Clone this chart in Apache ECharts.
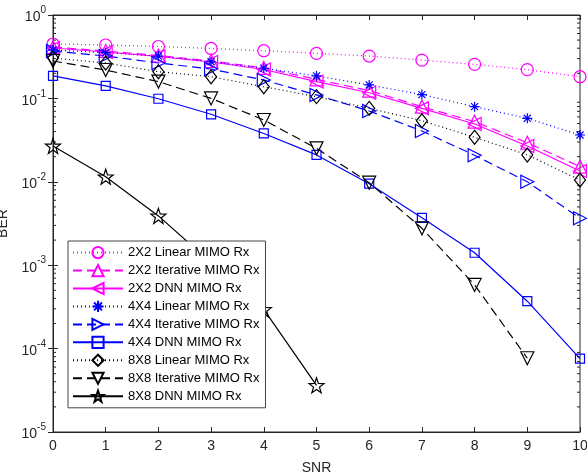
<!DOCTYPE html>
<html>
<head>
<meta charset="utf-8">
<script src="https://cdn.jsdelivr.net/npm/echarts@6/dist/echarts.min.js"></script>
<style>
  html, body { margin: 0; padding: 0; background: #fff; }
  #chart { width: 587px; height: 476px; }
</style>
</head>
<body>
<div id="chart"></div>
<script>
// SNR axis
const snr = [0, 1, 2, 3, 4, 5, 6, 7, 8, 9, 10]

// BER values
const lin2 = [0.449, 0.437, 0.419, 0.397, 0.373, 0.347, 0.322, 0.288, 0.256, 0.221, 0.182]
const iter2 = [0.413, 0.370, 0.327, 0.281, 0.232, 0.169, 0.124, 0.0796, 0.0526, 0.0294, 0.0152]
const dnn2 = [0.402, 0.360, 0.318, 0.273, 0.222, 0.159, 0.117, 0.0760, 0.0493, 0.0269, 0.0135]
const lin4 = [0.380, 0.353, 0.322, 0.275, 0.230, 0.186, 0.145, 0.111, 0.0796, 0.0577, 0.0364]
const iter4 = [0.370, 0.322, 0.266, 0.225, 0.166, 0.110, 0.0706, 0.0407, 0.0208, 0.0100, 0.00365]
const dnn4 = [0.186, 0.141, 0.099, 0.0645, 0.038, 0.021, 0.0095, 0.0037, 0.00141, 0.00037, 0.000076]
const lin8 = [0.305, 0.266, 0.209, 0.182, 0.138, 0.105, 0.0760, 0.0540, 0.0342, 0.0210, 0.0105]
const iter8 = [0.281, 0.219, 0.159, 0.100, 0.0551, 0.0252, 0.00975, 0.00277, 0.00058, 0.0000766]
const dnn8 = [0.0269, 0.0115, 0.0039, 0.00107, 0.000295, 0.0000363]

const names = [
  '2X2 Linear MIMO Rx', '2X2 Iterative MIMO Rx', '2X2 DNN MIMO Rx',
  '4X4 Linear MIMO Rx', '4X4 Iterative MIMO Rx', '4X4 DNN MIMO Rx',
  '8X8 Linear MIMO Rx', '8X8 Iterative MIMO Rx', '8X8 DNN MIMO Rx'
]

// minor log ticks 2..9 per decade
const minorTicks = []
for (let e = -5; e < 0; e++) {
  for (let m = 2; m <= 9; m++) minorTicks.push(m * Math.pow(10, e))
}

const MAGENTA = '#ff00ff'
const BLUE = '#0000ff'
const BLACK = '#000000'
const DOT = [1, 3]
const DASH = [9, 5]

const STAR = 'path://M0,-10L2.35,-3.24L9.51,-3.09L3.8,1.24L5.88,8.09L0,4L-5.88,8.09L-3.8,1.24L-9.51,-3.09L-2.35,-3.24Z'
const ASTERISK = 'path://M0,-10L0,10M-10,0L10,0M-7.07,-7.07L7.07,7.07M-7.07,7.07L7.07,-7.07'

function pairs(ys) {
  return ys.map((v, i) => [snr[i], v])
}

function makeSeries(name, ys, color, dash, symbol, size, rotate) {
  return {
    name: name,
    type: 'line',
    data: pairs(ys),
    symbol: symbol,
    symbolSize: size,
    symbolRotate: rotate || 0,
    showAllSymbol: true,
    clip: false,
    color: color,
    lineStyle: { color: color, width: 1.2, type: dash },
    itemStyle: { color: 'rgba(0,0,0,0)', borderColor: color, borderWidth: 1.2 },
    emphasis: { disabled: true },
    z: 3
  }
}

const chart = echarts.init(document.getElementById('chart'))

const axisColor = '#262626'
const tickStyle = { show: true, inside: true, length: 5, lineStyle: { color: axisColor } }

chart.setOption({
  animation: false,
  textStyle: { fontFamily: 'Liberation Sans, Arial, sans-serif' },
  grid: {
    left: 53, right: 7, top: 15, bottom: 44,
    outerBoundsMode: 'none',
    containLabel: false,
    show: true, borderColor: axisColor, borderWidth: 1
  },
  legend: {
    data: names,
    orient: 'vertical',
    left: 68,
    top: 241,
    itemWidth: 50,
    itemHeight: 14,
    itemGap: 4.75,
    padding: [5, 6, 5, 4],
    backgroundColor: '#fff',
    borderColor: '#444',
    borderWidth: 1,
    borderRadius: 0,
    textStyle: { fontSize: 13, color: '#000', fontFamily: 'Liberation Sans, Arial, sans-serif' },
    z: 10
  },
  xAxis: [
    {
      type: 'value',
      min: 0, max: 10, interval: 1,
      name: 'SNR',
      nameLocation: 'middle',
      nameGap: 29,
      nameTextStyle: { fontSize: 14, color: axisColor },
      axisLine: { show: true, lineStyle: { color: axisColor } },
      axisTick: tickStyle,
      axisLabel: { fontSize: 14, color: axisColor, margin: 7 },
      splitLine: { show: false }
    },
    {
      type: 'value',
      position: 'top',
      min: 0, max: 10, interval: 1,
      axisLine: { show: true, lineStyle: { color: axisColor } },
      axisTick: tickStyle,
      axisLabel: { show: false },
      splitLine: { show: false }
    }
  ],
  yAxis: [
    {
      type: 'log',
      logBase: 10,
      min: 1e-5, max: 1,
      name: 'BER',
      nameLocation: 'middle',
      nameGap: 42,
      nameTextStyle: { fontSize: 14, color: axisColor },
      axisLine: { show: true, lineStyle: { color: axisColor } },
      axisTick: tickStyle,
      axisLabel: {
        color: axisColor,
        margin: 7,
        formatter: function (v) {
          const e = Math.round(Math.log10(v))
          return '{b|10}{s|' + e + '}'
        },
        rich: {
          b: { fontSize: 14, lineHeight: 19, verticalAlign: 'bottom', color: axisColor },
          s: { fontSize: 10, lineHeight: 10, verticalAlign: 'top', color: axisColor }
        }
      },
      splitLine: { show: false }
    },
    {
      type: 'log',
      logBase: 10,
      position: 'right',
      min: 1e-5, max: 1,
      axisLine: { show: true, lineStyle: { color: axisColor } },
      axisTick: tickStyle,
      axisLabel: { show: false },
      splitLine: { show: false }
    }
  ],
  series: [
    {
      type: 'custom',
      name: 'minorTicks',
      coordinateSystem: 'cartesian2d',
      clip: false,
      silent: true,
      z: 1,
      data: minorTicks.map(v => [0, v]),
      renderItem: function (params, api) {
        const v = api.value(1)
        const l = api.coord([0, v])
        const r = api.coord([10, v])
        const st = { stroke: axisColor, lineWidth: 1 }
        return {
          type: 'group',
          children: [
            { type: 'line', shape: { x1: l[0], y1: l[1], x2: l[0] + 3, y2: l[1] }, style: st },
            { type: 'line', shape: { x1: r[0], y1: r[1], x2: r[0] - 3, y2: r[1] }, style: st }
          ]
        }
      }
    },
    makeSeries(names[0], lin2, MAGENTA, DOT, 'circle', 12),
    makeSeries(names[1], iter2, MAGENTA, DASH, 'triangle', 13),
    makeSeries(names[2], dnn2, MAGENTA, 'solid', 'triangle', 13, 90),
    makeSeries(names[3], lin4, BLUE, DOT, ASTERISK, 10),
    makeSeries(names[4], iter4, BLUE, DASH, 'triangle', 13, -90),
    makeSeries(names[5], dnn4, BLUE, 'solid', 'rect', 9),
    makeSeries(names[6], lin8, BLACK, DOT, 'diamond', [11, 14]),
    makeSeries(names[7], iter8, BLACK, DASH, 'triangle', 13, 180),
    makeSeries(names[8], dnn8, BLACK, 'solid', STAR, 15)
  ]
})
</script>
</body>
</html>
